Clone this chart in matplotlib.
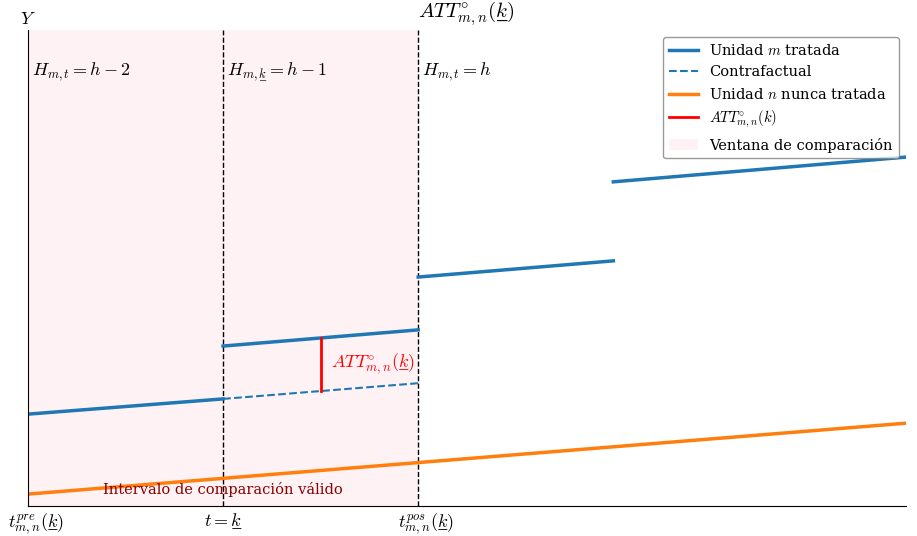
import matplotlib
matplotlib.use("Agg")
import matplotlib.pyplot as plt
import matplotlib.transforms as mtransforms
from matplotlib.patches import Patch
from matplotlib.lines import Line2D

plt.rcParams['font.family'] = 'DejaVu Serif'
plt.rcParams['mathtext.fontset'] = 'cm'

KU = 'k\u0332'  # underlined k

# data
pre_x = [0, 1]
pre_y = [1.93, 2.25]
cf_x = [1, 2]
cf_y = [2.25, 2.58]
tr1_x = [1, 2]
tr1_y = [3.36, 3.70]
tr2_x = [2, 3]
tr2_y = [4.81, 5.15]
tr3_x = [3, 4.5]
tr3_y = [6.81, 7.33]
never_x = [0, 4.5]
never_y = [0.25, 1.74]
att_x = 1.5
att_lo = 2.42
att_hi = 3.53
tick_pos = [0, 1, 2]
tick_labels = ['$t^{pre}_{m,n}(' + KU + ')$', '$t=' + KU + '$', '$t^{pos}_{m,n}(' + KU + ')$']

fig = plt.figure(figsize=(9.17, 5.36), dpi=100)
ax = fig.add_axes([28/917, 1-506/536, (906-28)/917, (506-30)/536])
ax.set_xlim(0, 4.5)
ax.set_ylim(0, 10)

blue = '#1f77b4'
orange = '#ff7f0e'
ax.axvspan(0, 2, color='pink', alpha=0.2, lw=0)
ax.axvline(1, color='black', ls='--', lw=1)
ax.axvline(2, color='black', ls='--', lw=1)

ax.plot(pre_x, pre_y, color=blue, lw=2.5)
ax.plot(cf_x, cf_y, color=blue, lw=1.5, ls='--')
ax.plot(tr1_x, tr1_y, color=blue, lw=2.5)
ax.plot(tr2_x, tr2_y, color=blue, lw=2.5)
ax.plot(tr3_x, tr3_y, color=blue, lw=2.5)
ax.plot(never_x, never_y, color=orange, lw=2.5)
ax.plot([att_x, att_x], [att_lo, att_hi], color='red', lw=2)

ax.text(att_x + 0.055, (att_lo + att_hi) / 2, '$ATT^{\\circ}_{m,n}(' + KU + ')$', color='red', fontsize=13, va='center')
ax.text(0.02, 9.12, r'$H_{m,t}=h-2$', fontsize=13, va='center')
ax.text(1.02, 9.12, '$H_{m,' + KU + '}=h-1$', fontsize=13, va='center')
ax.text(2.02, 9.12, r'$H_{m,t}=h$', fontsize=13, va='center')
ax.text(1.0, 0.34, 'Intervalo de comparación válido', color='darkred', fontsize=10.5, ha='center', va='center')
ax.text(-0.04, 10.05, r'$Y$', fontsize=13, va='bottom')
ax.text(2.0, 10.05, '$ATT^{\\circ}_{m,n}(' + KU + ')$', fontsize=15, va='bottom')

ax.set_xticks(tick_pos)
ax.set_xticklabels(tick_labels, fontsize=13)
ax.tick_params(axis='x', length=0, pad=4)
for i, lab in enumerate(ax.get_xticklabels()):
    if i != 1:
        lab.set_transform(lab.get_transform() + mtransforms.ScaledTranslation(8/100, 0, fig.dpi_scale_trans))
ax.set_yticks([])
ax.spines['top'].set_visible(False)
ax.spines['right'].set_visible(False)

handles = [
    Line2D([], [], color=blue, lw=2.5),
    Line2D([], [], color=blue, lw=1.5, ls='--'),
    Line2D([], [], color=orange, lw=2.5),
    Line2D([], [], color='red', lw=2),
    Patch(facecolor='pink', alpha=0.2),
]
labels = ['Unidad $m$ tratada', 'Contrafactual', 'Unidad $n$ nunca tratada',
          r'$ATT^{\circ}_{m,n}(k)$', 'Ventana de comparación']
ax.legend(handles, labels, loc='upper right', fontsize=10.5, framealpha=0.8, edgecolor='gray')

fig.savefig('out.png', dpi=100)
